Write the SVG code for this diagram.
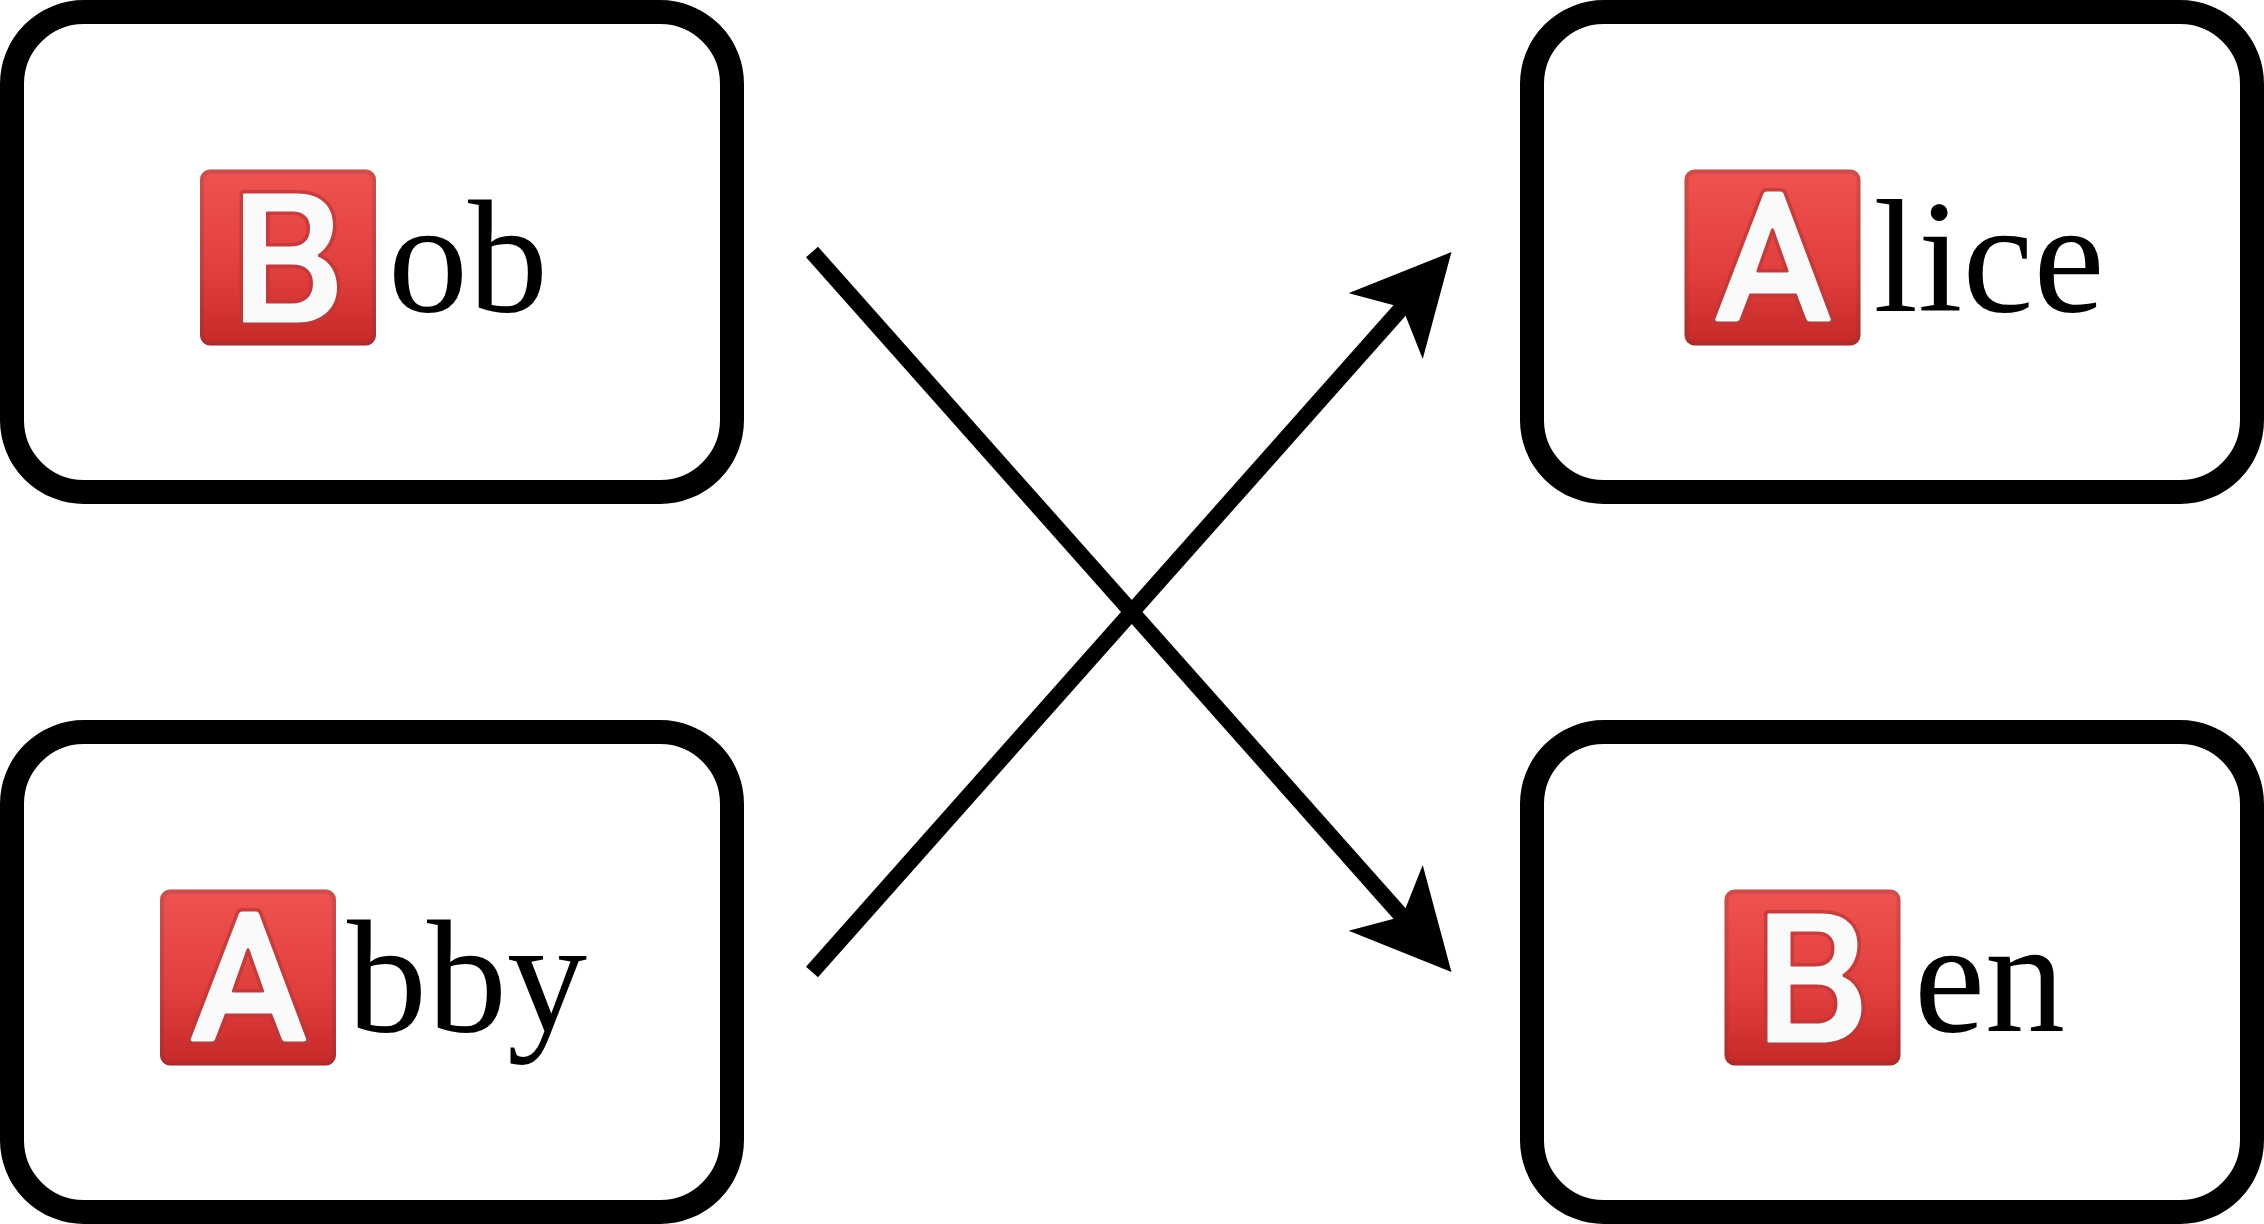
<svg xmlns="http://www.w3.org/2000/svg" width="2264" height="1224" viewBox="0 0 2264 1224">
  <style>
    .box { fill: #ffffff; stroke: #000000; stroke-width: 96; }
    .label { fill: #000000; font-size: 160px; font-family: "Liberation Serif", "Times New Roman", serif; }
    .conn { fill: none; stroke: #000000; stroke-width: 16; marker-end: url(#arrow); }
    .glyph { fill: #fafafa; fill-rule: evenodd; stroke: #b93a3a; stroke-opacity: 0.75; stroke-width: 28; stroke-linejoin: round; paint-order: stroke; }
  </style>
  <defs>
    <linearGradient id="red" x1="0" y1="0" x2="0" y2="1">
      <stop offset="0" stop-color="#ef5350"/>
      <stop offset="0.6" stop-color="#e03e3d"/>
      <stop offset="1" stop-color="#c62828"/>
    </linearGradient>
    <marker id="arrow" markerUnits="userSpaceOnUse" markerWidth="100" markerHeight="100" refX="25" refY="49.5" orient="auto" viewBox="0 0 100 100">
      <path d="M99 49.5 L0 0 L25 49.5 L0 99 Z" fill="#000000"/>
    </marker>
    <g id="tile">
      <rect x="0" y="0" width="704" height="704" rx="40" fill="url(#red)"/>
      <rect x="8" y="8" width="688" height="688" rx="34" fill="none" stroke="#424242" stroke-opacity="0.2" stroke-width="16"/>
    </g>
    <g id="letterA">
      <use href="#tile"/>
      <path class="glyph" d="M316 96 Q320 88 328 88 H384 Q392 88 396 96 L584 596 Q588 608 576 608 H500 Q492 608 488 600 L448 496 H260 L220 600 Q216 608 208 608 H132 Q120 608 124 596 Z M346 240 L288 404 Q286 412 294 412 H410 Q418 412 416 404 L358 240 Q352 228 346 240 Z"/>
    </g>
    <g id="letterB">
      <use href="#tile"/>
      <path class="glyph" d="M176 96 H388 C480 96 532 144 532 220 C532 276 508 316 472 340 V348 C520 368 548 412 548 472 C548 560 484 612 388 612 H176 Q172 612 172 608 V100 Q172 96 176 96 Z M268 168 Q264 168 264 172 V304 Q264 308 268 308 H360 C412 308 440 284 440 236 C440 192 416 168 368 168 Z M268 380 Q264 380 264 384 V532 Q264 536 268 536 H368 C420 536 452 508 452 456 C452 408 424 380 368 380 Z"/>
    </g>
  </defs>
  <rect width="2264" height="1224" fill="#ffffff"/>
  <g id="node-bob">
    <g transform="scale(0.25)"><rect class="box" x="48" y="48" width="2880" height="1920" rx="288"/></g>
    <use href="#letterB" transform="translate(200 169.5) scale(0.25)"/>
    <text class="label" x="388" y="311">ob</text>
  </g>
  <g id="node-alice">
    <g transform="scale(0.25)"><rect class="box" x="6128" y="48" width="2880" height="1920" rx="288"/></g>
    <use href="#letterA" transform="translate(1684.5 169.5) scale(0.25)"/>
    <text class="label" x="1873.5" y="311">lice</text>
  </g>
  <g id="node-abby">
    <g transform="scale(0.25)"><rect class="box" x="48" y="2928" width="2880" height="1920" rx="288"/></g>
    <use href="#letterA" transform="translate(160 889.5) scale(0.25)"/>
    <text class="label" x="347" y="1031">bby</text>
  </g>
  <g id="node-ben">
    <g transform="scale(0.25)"><rect class="box" x="6128" y="2928" width="2880" height="1920" rx="288"/></g>
    <use href="#letterB" transform="translate(1724.5 889.5) scale(0.25)"/>
    <text class="label" x="1914" y="1031">en</text>
  </g>
  <g id="connectors">
    <line class="conn" x1="812" y1="972" x2="1402.300" y2="307.400"/>
    <line class="conn" x1="812" y1="252" x2="1402.300" y2="916.600"/>
  </g>
</svg>
